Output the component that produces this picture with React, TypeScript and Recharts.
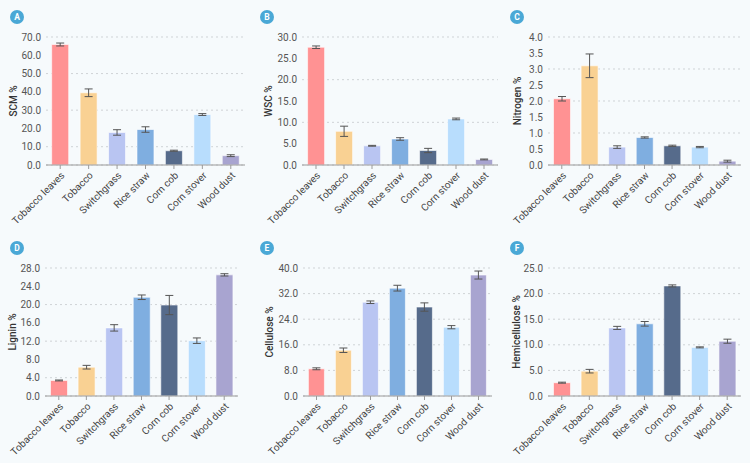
import { BarChart, Bar, XAxis, YAxis, CartesianGrid, ErrorBar, Cell, Label } from 'recharts';

const categories = ['Tobacco leaves', 'Tobacco', 'Switchgrass', 'Rice straw', 'Corn cob', 'Corn stover', 'Wood dust'];
const barColors = ['#ff9293', '#f9d193', '#b9c5f2', '#7faee0', '#566b8b', '#b8ddfd', '#a8a4d0'];

const scmValues = [65.9, 39.5, 17.8, 19.4, 7.8, 27.6, 5.1];
const scmErrors = [0.8, 2.1, 1.5, 1.5, 0.3, 0.5, 0.5];
const wscValues = [27.6, 7.9, 4.5, 6.1, 3.4, 10.8, 1.3];
const wscErrors = [0.3, 1.2, 0.1, 0.3, 0.5, 0.2, 0.1];
const nitrogenValues = [2.07, 3.1, 0.56, 0.86, 0.6, 0.56, 0.12];
const nitrogenErrors = [0.07, 0.37, 0.04, 0.02, 0.02, 0.02, 0.03];
const ligninValues = [3.4, 6.3, 14.9, 21.6, 19.9, 12.1, 26.5];
const ligninErrors = [0.1, 0.4, 0.7, 0.5, 2.1, 0.6, 0.25];
const celluloseValues = [8.5, 14.3, 29.3, 33.7, 27.8, 21.5, 37.8];
const celluloseErrors = [0.3, 0.7, 0.4, 0.9, 1.3, 0.5, 1.25];
const hemiValues = [2.6, 4.85, 13.3, 14.1, 21.5, 9.5, 10.7];
const hemiErrors = [0.1, 0.35, 0.3, 0.45, 0.2, 0.1, 0.4];

const FONT = 'Roboto, "Noto Sans", sans-serif';

interface PanelProps {
  letter: string;
  yLabel: string;
  values: number[];
  errors: number[];
  max: number;
  step: number;
  plotLeft: number;
  plotRight: number;
  labelX: number;
  left: number;
  top: number;
}

function Panel({ letter, yLabel, values, errors, max, step, plotLeft, plotRight, labelX, left, top }: PanelProps) {
  const data = categories.map((name, i) => ({ name, value: values[i], err: errors[i] }));
  const ticks: number[] = [];
  for (let t = 0; t <= max + 1e-9; t += step) ticks.push(Math.round(t * 100) / 100);

  return (
    <div style={{ position: 'absolute', left, top, width: 250, height: 231 }}>
      <svg width={30} height={30} style={{ position: 'absolute', left: 0, top: 0 }}>
        <circle cx={17} cy={17} r={7} fill="#4aa8d6" />
        <text x={17} y={17} dy="0.35em" textAnchor="middle" fill="#fff" fontSize={8.5} fontWeight={700} fontFamily={FONT}>
          {letter}
        </text>
      </svg>
      <BarChart
        width={250}
        height={231}
        data={data}
        margin={{ top: 37, right: 250 - plotRight, left: 0, bottom: 0 }}
        barCategoryGap="20%"
      >
        <CartesianGrid vertical={false} stroke="#cfd3d6" strokeDasharray="2 3" />
        <XAxis
          dataKey="name"
          interval={0}
          height={66}
          axisLine={{ stroke: '#9a9a9a' }}
          tickLine={{ stroke: '#9a9a9a' }}
          tickSize={4}
          tick={{ angle: -45, textAnchor: 'end', fontSize: 10, fill: '#444', fontFamily: FONT }}
        />
        <YAxis
          width={plotLeft}
          domain={[0, max]}
          ticks={ticks}
          axisLine={false}
          tickLine={false}
          tickSize={3}
          tickMargin={2}
          tickFormatter={(v: number) => v.toFixed(1)}
          tick={{ fontSize: 10, fill: '#555', fontFamily: FONT }}
        >
          <Label
            content={({ viewBox }: any) => {
              const cy = viewBox.y + viewBox.height / 2;
              return (
                <text
                  x={labelX}
                  y={cy}
                  transform={`rotate(-90, ${labelX}, ${cy})`}
                  textAnchor="middle"
                  dominantBaseline="central"
                  fontSize={10}
                  fontWeight={500}
                  fill="#333"
                  fontFamily={FONT}
                >
                  {yLabel}
                </text>
              );
            }}
          />
        </YAxis>
        <Bar dataKey="value" isAnimationActive={false} stroke="#ffffff" strokeOpacity={0.6} strokeWidth={1}>
          {data.map((_, i) => (
            <Cell key={i} fill={barColors[i]} />
          ))}
          <ErrorBar dataKey="err" width={4} stroke="#555" strokeWidth={1} />
        </Bar>
      </BarChart>
    </div>
  );
}

export default function App() {
  return (
    <div style={{ position: 'absolute', left: 0, top: 0, width: 750, height: 463, background: '#f6fafc', fontFamily: FONT }}>
      <Panel letter="A" yLabel="SCM %" values={scmValues} errors={scmErrors} max={70} step={10} plotLeft={46} plotRight={245} labelX={13} left={0} top={0} />
      <Panel letter="B" yLabel="WSC %" values={wscValues} errors={wscErrors} max={30} step={5} plotLeft={52} plotRight={248} labelX={18} left={250} top={0} />
      <Panel letter="C" yLabel="Nitrogen %" values={nitrogenValues} errors={nitrogenErrors} max={4} step={0.5} plotLeft={48} plotRight={241} labelX={17} left={500} top={0} />
      <Panel letter="D" yLabel="Lignin %" values={ligninValues} errors={ligninErrors} max={28} step={4} plotLeft={45} plotRight={238} labelX={12} left={0} top={231} />
      <Panel letter="E" yLabel="Cellulose %" values={celluloseValues} errors={celluloseErrors} max={40} step={8} plotLeft={53} plotRight={242} labelX={19} left={250} top={231} />
      <Panel letter="F" yLabel="Hemicellulose %" values={hemiValues} errors={hemiErrors} max={25} step={5} plotLeft={48} plotRight={241} labelX={16} left={500} top={231} />
    </div>
  );
}
